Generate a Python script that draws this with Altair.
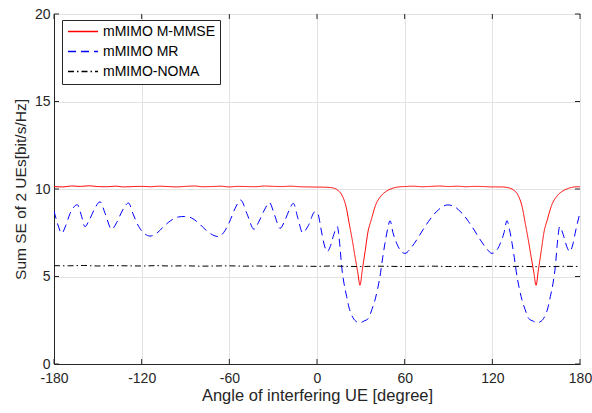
import altair as alt
import pandas as pd

series_names = ["mMIMO M-MMSE", "mMIMO MR", "mMIMO-NOMA"]
series_colors = ["#ff0000", "#0000ff", "#000000"]

# mMIMO M-MMSE
mmse_x = [-180, -174, -168, -162, -156, -150, -144, -138, -132, -126, -120, -114, -108, -102, -96, -90,
          -84, -78, -72, -66, -60, -54, -48, -42, -36, -30, -24, -18, -12, -6, 0, 6,
          11, 14, 17, 20, 22, 24, 26, 28, 29.4, 31, 33, 35, 37, 40, 44, 48, 52, 56,
          60, 66, 72, 78, 84, 90, 96, 102, 108, 114, 120, 126,
          131.5, 134.5, 137.5, 140.5, 142.5, 144.5, 146.5, 148.5, 149.9, 151.5, 153.5, 155.5,
          157.5, 160.5, 164.5, 168.5, 172.5, 176.5, 180]
mmse_y = [10.14, 10.12, 10.17, 10.15, 10.18, 10.14, 10.13, 10.16, 10.12, 10.14, 10.15, 10.13, 10.16, 10.14, 10.12, 10.15,
          10.17, 10.13, 10.14, 10.16, 10.12, 10.15, 10.14, 10.13, 10.17, 10.15, 10.14, 10.16, 10.13, 10.12, 10.11, 10.1,
          10.06, 9.94, 9.66, 8.95, 8.05, 7.15, 6.15, 5.18, 4.5, 5.37, 6.48, 7.6, 8.2, 9.05, 9.62, 9.9, 10.05, 10.12,
          10.14, 10.16, 10.13, 10.15, 10.17, 10.14, 10.16, 10.13, 10.15, 10.14, 10.12, 10.12,
          10.06, 9.94, 9.66, 8.95, 8.05, 7.15, 6.15, 5.18, 4.5, 5.37, 6.48, 7.6,
          8.2, 9.05, 9.62, 9.9, 10.05, 10.12, 10.13]

# mMIMO MR
mr_x = [-180, -177.5, -174.7, -172, -169, -164, -161.5, -158.8, -156, -152,
        -148.5, -145, -140.5, -137, -133, -129, -126, -122, -118, -114.3,
        -110, -105, -100, -95, -90.5, -86, -81, -76, -71.5, -67.5,
        -64, -60, -56, -52.2, -48, -43.1, -40, -36, -32.6, -29,
        -25.3, -22, -19, -16.2, -13, -9.8, -6, -1.4,
        0.5, 3, 5, 7, 9, 11.5, 13.9, 15.5, 16.9, 18.5,
        20.3, 22, 23.7, 26.5, 29.4, 32, 35.1, 37.5, 39.7, 41.5,
        43.1, 45, 46.5, 48.3, 50, 52, 54.5, 57, 60.2, 64,
        68.2, 72, 76.2, 80, 83, 86, 89.5, 94, 97, 100,
        103.8, 108, 111.8, 116, 119.8, 123, 125.5, 128, 130, 131.7,
        133.5, 135, 136.9, 138.5, 140.3, 142.5, 144.9, 148, 150.6, 153.5,
        156.3, 158, 159.7, 161.5, 163.1, 164.5, 166.1, 168.5, 171, 173,
        175, 177, 180]
mr_y = [8.75, 8.0, 7.47, 7.9, 8.6, 9.1, 8.55, 7.85, 8.2, 8.9,
        9.27, 8.6, 7.7, 8.1, 8.8, 9.2, 8.6, 7.85, 7.45, 7.31,
        7.45, 7.85, 8.2, 8.4, 8.43, 8.35, 8.05, 7.65, 7.38, 7.28,
        7.5, 8.1, 8.9, 9.37, 8.6, 7.7, 8.1, 8.8, 9.22, 8.5,
        7.75, 8.2, 8.8, 9.18, 8.3, 7.5, 7.9, 8.7,
        8.6, 7.6, 6.8, 6.42, 6.7, 7.4, 7.85, 6.9, 5.56, 4.6,
        3.85, 3.2, 2.8, 2.45, 2.36, 2.45, 2.6, 3.1, 3.66, 4.3,
        5.0, 6.1, 6.9, 7.7, 8.19, 7.5, 6.9, 6.5, 6.32, 6.6,
        7.09, 7.6, 8.13, 8.55, 8.8, 9.0, 9.09, 9.0, 8.8, 8.55,
        8.13, 7.6, 7.09, 6.6, 6.32, 6.5, 6.9, 7.5, 8.19, 7.7,
        6.9, 6.1, 5.0, 4.3, 3.66, 3.1, 2.6, 2.45, 2.36, 2.45,
        2.8, 3.2, 3.85, 4.6, 5.56, 6.9, 7.85, 7.4, 6.7, 6.42,
        6.8, 7.6, 8.65]

# mMIMO-NOMA
noma_x = [-180, -170, -160, -150, -140, -130, -120, -110, -100, -90,
          -80, -70, -60, -50, -40, -30, -20, -10, 0, 10,
          20, 30, 40, 50, 60, 70, 80, 90, 100, 110,
          120, 130, 140, 150, 160, 170, 180]
noma_y = [5.62, 5.61, 5.63, 5.6, 5.62, 5.61, 5.6, 5.62, 5.6, 5.61,
          5.59, 5.6, 5.61, 5.59, 5.6, 5.58, 5.6, 5.59, 5.58, 5.6,
          5.58, 5.57, 5.59, 5.58, 5.57, 5.58, 5.59, 5.57, 5.58, 5.56,
          5.58, 5.57, 5.58, 5.56, 5.57, 5.58, 5.57]

x_ticks = [-180, -120, -60, 0, 60, 120, 180]
y_ticks = [0, 5, 10, 15, 20]

rows = []
for name, xs, ys in zip(series_names, [mmse_x, mr_x, noma_x], [mmse_y, mr_y, noma_y]):
    for i, (a, b) in enumerate(zip(xs, ys)):
        rows.append({"series": name, "angle": a, "se": b, "idx": i})
df = pd.DataFrame(rows)

FONT = "Liberation Sans"
AX = "#262626"
W, H = 526, 350

leg = alt.Legend(
    title=None, orient="none", legendX=8, legendY=6,
    strokeColor=AX, fillColor="white", padding=5,
    symbolType="stroke", symbolSize=900, symbolStrokeWidth=1.4,
    labelFontSize=14, labelFont=FONT, labelColor="#000000",
    labelOffset=4, rowPadding=5, clipHeight=13,
)

xscale = alt.Scale(domain=[-180, 180], nice=False, zero=False)
yscale = alt.Scale(domain=[0, 20], nice=False, zero=False)
x_axis = alt.Axis(values=x_ticks, title="Angle of interfering UE [degree]",
                  labelExpr="'' + datum.value", labelFlush=False, labelOverlap=False,
                  labelFontSize=14, titleFontSize=16.5, titlePadding=2, labelPadding=7.5)
y_axis = alt.Axis(values=y_ticks, title="Sum SE of 2 UEs[bit/s/Hz]",
                  labelExpr="'' + datum.value", labelFlush=False, labelOverlap=False,
                  labelFontSize=14, titleFontSize=15.5, titlePadding=6, labelPadding=4)

lines = alt.Chart(df).mark_line(interpolate="monotone", strokeWidth=1, clip=True).encode(
    x=alt.X("angle:Q", scale=xscale, axis=x_axis),
    y=alt.Y("se:Q", scale=yscale, axis=y_axis),
    color=alt.Color("series:N", scale=alt.Scale(domain=series_names, range=series_colors), legend=leg),
    strokeDash=alt.StrokeDash("series:N",
                              scale=alt.Scale(domain=series_names, range=[[1, 0], [8, 5], [6, 3, 1.5, 3]]),
                              legend=leg),
    order="idx:Q",
)

xt = pd.DataFrame({"angle": x_ticks})
yt = pd.DataFrame({"se": y_ticks})
tick_style = dict(color=AX, strokeWidth=1)
xtick_b = alt.Chart(xt).mark_rule(**tick_style).encode(
    x=alt.X("angle:Q", scale=xscale, axis=x_axis), y=alt.value(H), y2=alt.value(H - 5))
xtick_t = alt.Chart(xt).mark_rule(**tick_style).encode(
    x=alt.X("angle:Q", scale=xscale, axis=x_axis), y=alt.value(0), y2=alt.value(5))
ytick_l = alt.Chart(yt).mark_rule(**tick_style).encode(
    y=alt.Y("se:Q", scale=yscale, axis=y_axis), x=alt.value(0), x2=alt.value(5))
ytick_r = alt.Chart(yt).mark_rule(**tick_style).encode(
    y=alt.Y("se:Q", scale=yscale, axis=y_axis), x=alt.value(W), x2=alt.value(W - 5))

chart = alt.layer(xtick_b, xtick_t, ytick_l, ytick_r, lines).properties(
    width=W, height=H,
    autosize=alt.AutoSizeParams(type="none"),
    padding={"left": 54, "top": 14, "right": 12, "bottom": 49},
    background="white",
).configure_view(
    stroke=AX, strokeWidth=1,
).configure_axis(
    labelFont=FONT, titleFont=FONT,
    titleFontWeight="normal", labelColor=AX, titleColor=AX,
    domainColor=AX, ticks=False, grid=True, gridColor="#e3e3e3",
)

chart.save("out.html", embed_options={"renderer": "svg", "actions": False})
